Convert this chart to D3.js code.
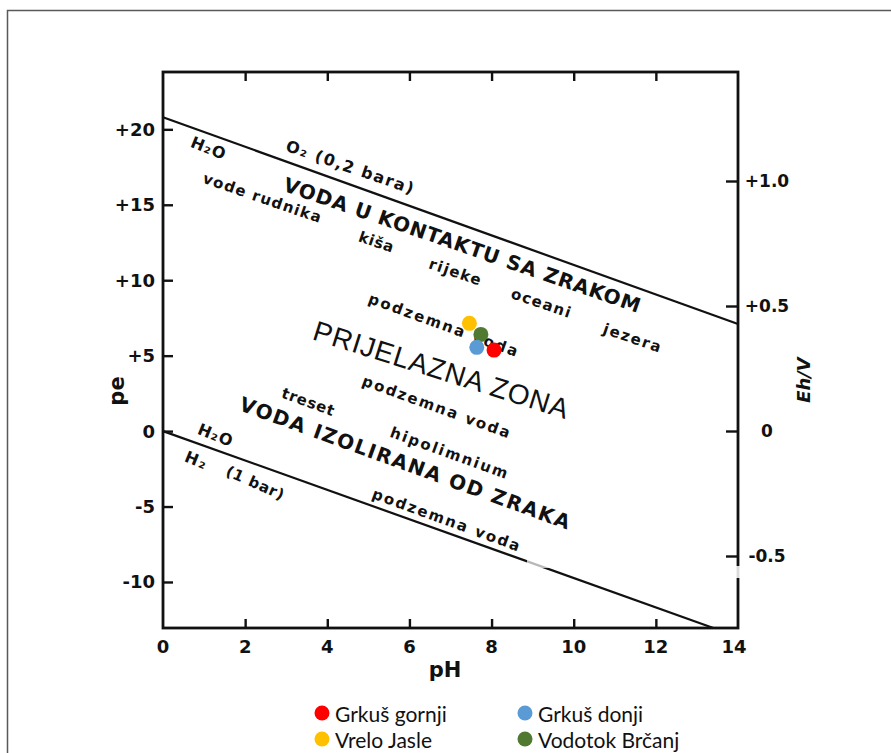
<!DOCTYPE html>
<html><head><meta charset="utf-8">
<script src="https://cdn.jsdelivr.net/npm/d3@7"></script>
<style>
html,body{margin:0;padding:0;background:#fff;}
svg{display:block;}
</style></head>
<body>
<svg id="chart" width="891" height="753"></svg>
<script>
// ---- data ----
const pHTicks = [0, 2, 4, 6, 8, 10, 12, 14];
const peTickValues = [20, 15, 10, 5, 0, -5, -10];
const peTickLabels = ["+20", "+15", "+10", "+5", "0", "-5", "-10"];
const ehTickValues = [1.0, 0.5, 0, -0.5];
const ehTickLabels = ["+1.0", "+0.5", "0", "-0.5"];

const seriesNames = ["Grkuš gornji", "Grkuš donji", "Vrelo Jasle", "Vodotok Brčanj"];
const seriesColors = ["#FF0000", "#5B9BD5", "#FFC000", "#507A31"];
const seriesPH = [8.06, 7.64, 7.46, 7.74];
const seriesPE = [5.37, 5.55, 7.14, 6.41];

const o2LinePH = [0, 14];
const o2LinePE = [20.8, 7.1];
const h2LinePH = [0, 13.4];
const h2LinePE = [0, -13.05];

// annotations: text, pH, pe
const annText = ["H₂O", "O₂  (0,2 bara)", "VODA U KONTAKTU SA ZRAKOM", "vode rudnika", "kiša", "rijeke",
  "oceani", "jezera", "podzemna voda", "PRIJELAZNA  ZONA", "podzemna voda", "treset", "hipolimnium",
  "VODA IZOLIRANA OD ZRAKA", "H₂O", "H₂", "(1 bar)", "podzemna voda"];
const annPH = [1.10, 4.55, 7.28, 2.41, 5.19, 7.11, 9.20, 11.42, 6.82, 6.77, 6.65, 3.53, 6.96, 5.89, 1.27, 0.80, 2.24, 6.89];
const annPE = [18.76, 17.50, 12.33, 15.45, 12.53, 10.54, 8.49, 6.17, 7.03, 4.05, 1.60, 1.93, -1.45, -2.12, -0.26, -1.92, -3.44, -5.89];

// ---- styles (not data) ----
const annStyle = [
  {fs:16, fw:"bold", len:36, rot:22}, {fs:16, fw:"bold", len:134, rot:19},
  {fs:20, fw:"bold", len:376, rot:19}, {fs:15, fw:"bold", len:124, rot:19},
  {fs:15, fw:"bold", len:36, rot:19}, {fs:15, fw:"bold", len:54, rot:19},
  {fs:15, fw:"bold", len:62, rot:19}, {fs:15, fw:"bold", len:60, rot:19},
  {fs:15, fw:"bold", len:158, rot:20}, {fs:28, fw:"normal", len:266, rot:17.5},
  {fs:15, fw:"bold", len:156, rot:20}, {fs:15, fw:"bold", len:55, rot:20},
  {fs:15, fw:"bold", len:124, rot:20}, {fs:20, fw:"bold", len:350, rot:20},
  {fs:16, fw:"bold", len:36, rot:22}, {fs:16, fw:"bold", len:22, rot:22},
  {fs:15, fw:"bold", len:62, rot:24}, {fs:15, fw:"bold", len:156, rot:20}
];

const svg = d3.select("#chart");
const font = "'DejaVu Sans', Verdana, sans-serif";
const fontReg = "'Liberation Sans', Arial, Helvetica, sans-serif";

// outer frame
svg.append("rect").attr("x", 7.5).attr("y", 10.5).attr("width", 900).attr("height", 800)
  .attr("fill", "none").attr("stroke", "#595959").attr("stroke-width", 1.5);

const x = d3.scaleLinear().domain([0, 14]).range([163, 738]);
const y = d3.scaleLinear().domain([-13.05, 23.8]).range([628, 72]);
const yEh = d3.scaleLinear().domain([-0.788, 1.436]).range([628, 72]);

const g = svg.append("g");

// axes (inward ticks)
const axStyle = sel => {
  sel.select(".domain").remove();
  sel.selectAll(".tick line").attr("stroke", "#111").attr("stroke-width", 2.4);
  sel.selectAll(".tick text").remove();
};
g.append("g").attr("transform", `translate(0,${y.range()[0]})`)
  .call(d3.axisTop(x).tickValues(pHTicks.slice(1, -1)).tickSize(9)).call(axStyle);
g.append("g").attr("transform", `translate(0,${y.range()[1]})`)
  .call(d3.axisBottom(x).tickValues(pHTicks.slice(1, -1)).tickSize(9)).call(axStyle);
g.append("g").attr("transform", `translate(${x.range()[0]},0)`)
  .call(d3.axisRight(y).tickValues(peTickValues).tickSize(10)).call(axStyle);
g.append("g").attr("transform", `translate(${x.range()[1]},0)`)
  .call(d3.axisLeft(yEh).tickValues(ehTickValues).tickSize(12)).call(axStyle);

// boundary lines
const line = d3.line().x(d => x(d[0])).y(d => y(d[1]));
g.append("path").attr("d", line(o2LinePH.map((p, i) => [p, o2LinePE[i]])))
  .attr("fill", "none").attr("stroke", "#111").attr("stroke-width", 2.2);
g.append("path").attr("d", line(h2LinePH.map((p, i) => [p, h2LinePE[i]])))
  .attr("fill", "none").attr("stroke", "#111").attr("stroke-width", 2.2);

// frame
g.append("rect").attr("x", x(0)).attr("y", y(23.8)).attr("width", x(14) - x(0)).attr("height", y(-13.05) - y(23.8))
  .attr("fill", "none").attr("stroke", "#111").attr("stroke-width", 2.8);

// scan artefact: faded band across lower line and right axis
g.append("rect").attr("x", 527).attr("y", 559).attr("width", 30).attr("height", 9).attr("fill", "#fff").attr("opacity", 0.7);
g.append("rect").attr("x", 735).attr("y", 566).attr("width", 6).attr("height", 12).attr("fill", "#fff").attr("opacity", 0.85);

// tick labels
g.selectAll(".xl").data(pHTicks).join("text")
  .attr("x", d => x(d) + (d === 14 ? -4 : 0)).attr("y", 646)
  .attr("text-anchor", "middle").attr("dominant-baseline", "central")
  .style("font-family", font).style("font-weight", "bold").style("font-size", "18px").attr("fill", "#111")
  .text(d => d);
g.selectAll(".yl").data(peTickValues).join("text")
  .attr("x", 155).attr("y", d => y(d))
  .attr("text-anchor", "end").attr("dominant-baseline", "central")
  .style("font-family", font).style("font-weight", "bold").style("font-size", "18px").attr("fill", "#111")
  .text((d, i) => peTickLabels[i]);
g.selectAll(".el").data(ehTickValues).join("text")
  .attr("x", 767).attr("y", d => yEh(d))
  .attr("text-anchor", "middle").attr("dominant-baseline", "central")
  .style("font-family", font).style("font-weight", "bold").style("font-size", "17px").attr("fill", "#111")
  .text((d, i) => ehTickLabels[i]);

// axis titles
g.append("text").attr("transform", "translate(117,391) rotate(-90)")
  .attr("text-anchor", "middle").attr("dominant-baseline", "central")
  .style("font-family", font).style("font-weight", "bold").style("font-size", "21px").attr("fill", "#111").text("pe");
g.append("text").attr("x", 445).attr("y", 670)
  .attr("text-anchor", "middle").attr("dominant-baseline", "central")
  .style("font-family", font).style("font-weight", "bold").style("font-size", "21px").attr("fill", "#111").text("pH");
g.append("text").attr("transform", "translate(803,380) rotate(-90)")
  .attr("text-anchor", "middle").attr("dominant-baseline", "central")
  .style("font-family", font).style("font-weight", "bold").style("font-style", "italic").style("font-size", "18px").attr("fill", "#111").text("Eh/V");

// annotations
annText.forEach((t, i) => {
  const s = annStyle[i];
  g.append("text")
    .attr("transform", `translate(${x(annPH[i])},${y(annPE[i])}) rotate(${s.rot})`)
    .attr("text-anchor", "middle").attr("dominant-baseline", "central")
    .attr("textLength", s.len).attr("lengthAdjust", "spacing")
    .style("font-family", s.fw === "bold" ? font : fontReg).style("font-weight", s.fw).style("font-size", s.fs + "px")
    .attr("fill", "#111")
    .text(t);
});

// points
const pts = seriesNames.map((n, i) => ({n, c: seriesColors[i], ph: seriesPH[i], pe: seriesPE[i]}));
const drawOrder = [2, 3, 1, 0];
g.selectAll(".pt").data(drawOrder.map(i => pts[i])).join("circle")
  .attr("cx", d => x(d.ph)).attr("cy", d => y(d.pe)).attr("r", 7.5).attr("fill", d => d.c);

// legend
const legFont = "Lato, 'Open Sans', sans-serif";
const legX = [322, 525], legY = [713, 739];
pts.forEach((d, i) => {
  const cx = legX[i % 2], cy = legY[Math.floor(i / 2)];
  svg.append("circle").attr("cx", cx).attr("cy", cy).attr("r", 7.5).attr("fill", d.c);
  svg.append("text").attr("x", cx + 13).attr("y", cy).attr("dominant-baseline", "central")
    .style("font-family", legFont).style("font-size", "21px").attr("fill", "#111").text(d.n);
});
</script>
</body></html>
